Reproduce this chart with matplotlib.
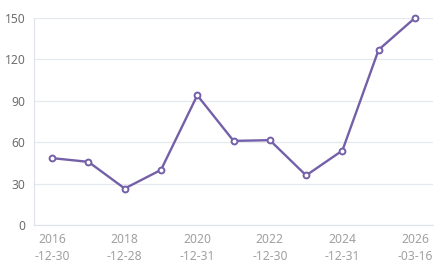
import matplotlib
matplotlib.use("Agg")
import matplotlib.pyplot as plt

dates = ["2016-12-30", "2017-12-29", "2018-12-28", "2019-12-31", "2020-12-31",
         "2021-12-31", "2022-12-30", "2023-12-29", "2024-12-31", "2025-12-31", "2026-03-16"]
values = [48.5, 45.8, 26.5, 40, 94, 61, 61.5, 36, 54, 127, 150]
y_ticks = [0, 30, 60, 90, 120, 150]
tick_idx = [0, 2, 4, 6, 8, 10]

plt.rcParams['font.family'] = ['Noto Sans', 'DejaVu Sans']

fig = plt.figure(figsize=(4.4, 2.68), dpi=100)
ax = fig.add_axes([0.0773, 0.160, 0.907, 0.773])

x = list(range(len(dates)))
ax.plot(x, values, color="#7460a8", lw=1.7, marker="o", markersize=4.2,
        markerfacecolor="white", markeredgecolor="#7460a8", markeredgewidth=1.4,
        zorder=3, clip_on=False)

ax.set_xlim(-0.5, len(dates) - 0.5)
ax.set_ylim(0, 150)
ax.set_yticks(y_ticks)
ax.set_yticklabels([str(v) for v in y_ticks], fontsize=8.7, color="#6e6e6e")
ax.set_xticks(tick_idx)
ax.set_xticklabels([dates[i][:4] + "\n" + dates[i][4:] for i in tick_idx],
                   fontsize=8.7, color="#a0a0a0", linespacing=1.35)

ax.grid(axis="y", color="#e6e8ef", lw=0.9)
ax.set_axisbelow(True)
for s in ["top", "right"]:
    ax.spines[s].set_visible(False)
ax.spines["left"].set_color("#e0e2ea")
ax.spines["bottom"].set_color("#e0e2ea")
ax.tick_params(axis="both", length=0, pad=6)

fig.savefig("out.png", dpi=100)
